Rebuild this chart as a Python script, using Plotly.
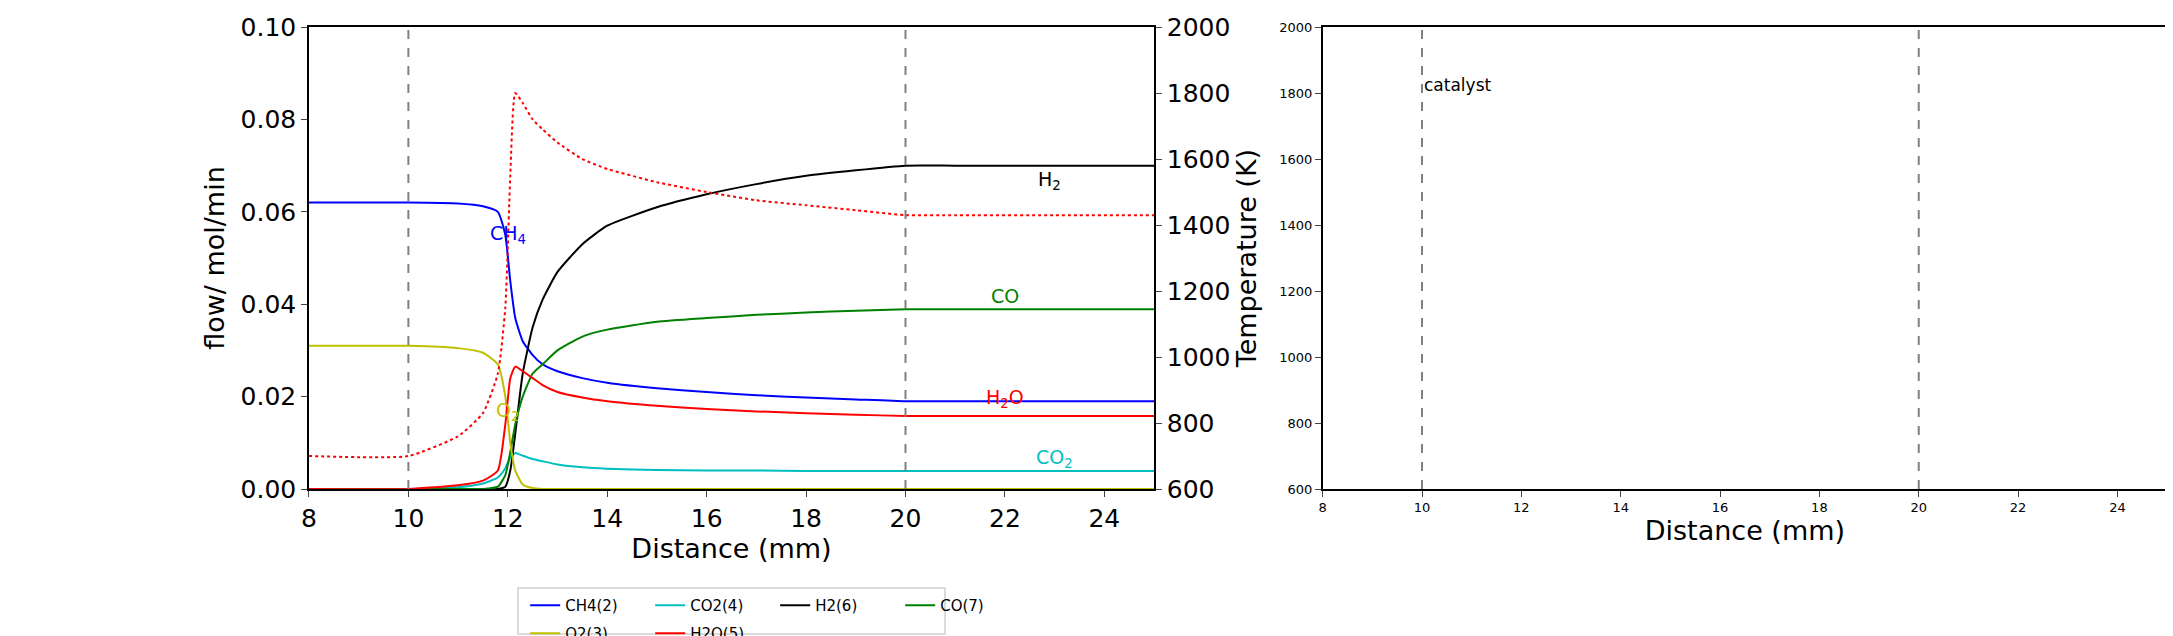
import plotly.graph_objects as go

# distance (mm) and flows (mol/min)
dist = [8, 10, 11, 11.5, 11.8, 11.95, 12.05, 12.15, 12.3, 12.5, 12.7, 13, 13.5, 14, 15, 16, 17, 18, 19, 20, 21, 23, 25]
ch4 = [0.062, 0.062, 0.0618, 0.0612, 0.0600, 0.055, 0.045, 0.037, 0.032, 0.029, 0.027, 0.0255, 0.024, 0.023, 0.0218, 0.021, 0.0203, 0.0198, 0.0194, 0.019, 0.019, 0.019, 0.019]
o2 = [0.031, 0.031, 0.0305, 0.0295, 0.027, 0.020, 0.010, 0.004, 0.001, 0.0002, 0, 0, 0, 0, 0, 0, 0, 0, 0, 0, 0, 0, 0]
co2 = [0, 0, 0.0004, 0.0012, 0.0025, 0.0045, 0.0068, 0.0078, 0.0072, 0.0065, 0.006, 0.0053, 0.0047, 0.0044, 0.0041, 0.004, 0.004, 0.0039, 0.0039, 0.0039, 0.0039, 0.0039, 0.0039]
h2o = [0, 0, 0.0008, 0.0018, 0.004, 0.014, 0.024, 0.0265, 0.0255, 0.024, 0.0225, 0.021, 0.0198, 0.019, 0.018, 0.0173, 0.0168, 0.0164, 0.0161, 0.0158, 0.0158, 0.0158, 0.0158]
h2 = [0, 0, 0, 0, 0, 0.0005, 0.004, 0.012, 0.025, 0.035, 0.041, 0.047, 0.053, 0.057, 0.061, 0.0638, 0.066, 0.0678, 0.069, 0.070, 0.070, 0.070, 0.070]
co = [0, 0, 0, 0, 0.0005, 0.003, 0.008, 0.014, 0.020, 0.025, 0.027, 0.030, 0.033, 0.0345, 0.0362, 0.037, 0.0377, 0.0382, 0.0386, 0.0389, 0.0389, 0.0389, 0.0389]
temp = [700, 700, 760, 830, 950, 1150, 1550, 1800, 1770, 1720, 1690, 1650, 1600, 1570, 1530, 1500, 1475, 1460, 1445, 1430, 1430, 1430, 1430]

species = [("CH4(2)", ch4, "#0000ff"), ("CO2(4)", co2, "#00bfbf"), ("H2(6)", h2, "#000000"),
           ("CO(7)", co, "#008000"), ("O2(3)", o2, "#bfbf00"), ("H2O(5)", h2o, "#ff0000")]

fig = go.Figure()
for i, (name, vals, col) in enumerate(species):
    fig.add_trace(go.Scatter(x=dist, y=vals, mode="lines", name=name, line=dict(color=col, width=2, shape="spline", smoothing=0.5),
                             legend="legend" if i < 4 else "legend2"))
fig.add_trace(go.Scatter(x=dist, y=temp, mode="lines", yaxis="y2", showlegend=False,
                         line=dict(color="#ff0000", width=2, dash="dot", shape="spline", smoothing=0.5)))

# empty right panel
fig.add_trace(go.Scatter(x=[None], y=[None], xaxis="x3", yaxis="y3", showlegend=False))

lab_font = 19
labels = [(12.0, 0.055, "CH<sub>4</sub>", "#0000ff"), (22.9, 0.0668, "H<sub>2</sub>", "#000000"),
          (22.0, 0.0418, "CO", "#008000"), (22.0, 0.0195, "H<sub>2</sub>O", "#ff0000"),
          (23.0, 0.0065, "CO<sub>2</sub>", "#00bfbf"), (12.0, 0.0168, "O<sub>2</sub>", "#bfbf00")]
for x, y, t, c in labels:
    fig.add_annotation(x=x, y=y, xref="x", yref="y", text=t, showarrow=False, font=dict(size=lab_font, color=c))
fig.add_annotation(x=10, y=1825, xref="x3", yref="y3", text="catalyst", showarrow=False, xanchor="left",
                   font=dict(size=17, color="black"))

for xr, yr in [("x", "y"), ("x3", "y3")]:
    for xv in [10, 20]:
        fig.add_shape(type="line", xref=xr, yref=yr + " domain", x0=xv, x1=xv, y0=0, y1=1,
                      line=dict(color="gray", width=2, dash="dash"))

ax = dict(showgrid=False, showline=True, linecolor="black", linewidth=1.5, mirror=True, ticks="outside",
          ticklen=6, zeroline=False, automargin=False)
ydom = [0.2437, 0.970]
fig.update_layout(
    width=2173, height=636, margin=dict(l=0, r=0, t=0, b=0, autoexpand=False),
    plot_bgcolor="white", paper_bgcolor="white",
    font=dict(family="DejaVu Sans", color="black"),
    xaxis=dict(ax, domain=[0.1385, 0.5274], range=[8, 25], dtick=2, anchor="y", tickfont=dict(size=25),
               title=dict(text="Distance (mm)", font=dict(size=27), standoff=5)),
    yaxis=dict(ax, domain=ydom, range=[0, 0.1], dtick=0.02, tickformat=".2f", anchor="x", tickfont=dict(size=25),
               title=dict(text="flow/ mol/min", font=dict(size=27), standoff=8)),
    yaxis2=dict(ax, overlaying="y", side="right", range=[600, 2000], dtick=200, anchor="x", mirror=False,
                tickfont=dict(size=25), title=dict(text="Temperature (K)", font=dict(size=27), standoff=8)),
    xaxis3=dict(ax, domain=[0.605, 0.9936], range=[8, 25], dtick=2, anchor="y3", tickfont=dict(size=13),
                title=dict(text="Distance (mm)", font=dict(size=27), standoff=5)),
    yaxis3=dict(ax, domain=ydom, range=[600, 2000], dtick=200, anchor="x3", tickfont=dict(size=13)),
    legend=dict(orientation="h", x=0.238, y=0.0865, xanchor="left", yanchor="top", entrywidth=80,
                font=dict(size=15), bgcolor="rgba(0,0,0,0)"),
    legend2=dict(orientation="h", x=0.238, y=0.0425, xanchor="left", yanchor="top", entrywidth=80,
                 font=dict(size=15), bgcolor="rgba(0,0,0,0)"),
)
fig.add_shape(type="rect", xref="paper", yref="paper", x0=510 / 2173, x1=937 / 2173, y0=1 - 626 / 636, y1=1 - 580 / 636,
              line=dict(color="#d0d0d0", width=1.5))

fig.write_html("out.html")
